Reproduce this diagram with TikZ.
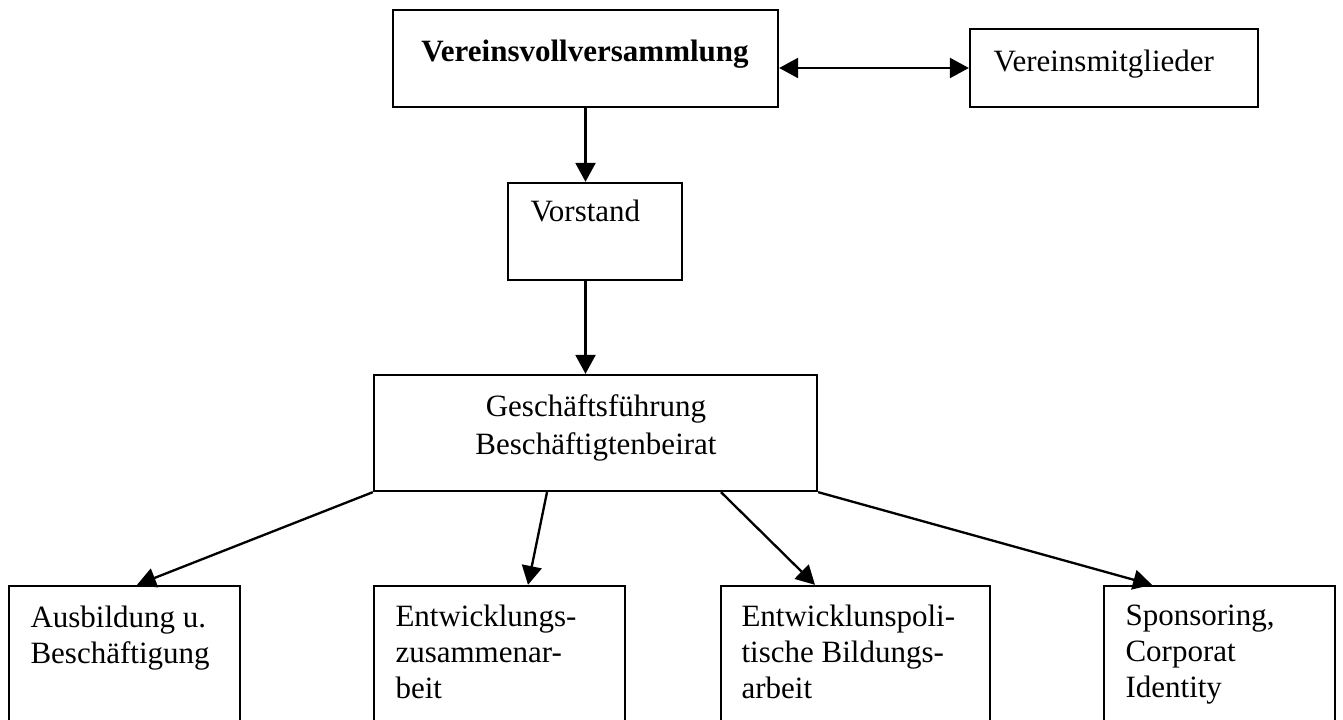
\documentclass[tikz,border=0pt]{standalone}
\usepackage{fontspec}
\setmainfont{Liberation Serif}
\usetikzlibrary{arrows.meta,calc}
\newcommand{\pxl}{0.387pt}
\begin{document}
\begin{tikzpicture}[x=0.387pt,y=-0.387pt,>={Triangle[length=7.3pt,width=7.7pt]},
	box/.style={draw,line width=0.9pt,inner sep=0pt},
	txt/.style={inner sep=0pt,font=\fontsize{12}{14.1}\selectfont,align=left},
	pfeil/.style={line width=0.9pt}]
	\useasboundingbox (0,0) rectangle (1343,720);
	\clip (0,0) rectangle (1343,720);
	%boxes
	\node[box,minimum width=385*\pxl,minimum height=97*\pxl] (vvv) at (585.5,58.5) {};
	\node[box,minimum width=288*\pxl,minimum height=78*\pxl] (mit) at (1114,68) {};
	\node[box,minimum width=174*\pxl,minimum height=97*\pxl] (vor) at (595,231.5) {};
	\node[box,minimum width=443*\pxl,minimum height=116*\pxl] (gf) at (595.5,433) {};
	\node[box,minimum width=231*\pxl,minimum height=174*\pxl] (aus) at (124.5,673) {};
	\node[box,minimum width=251*\pxl,minimum height=174*\pxl] (ez) at (499.5,673) {};
	\node[box,minimum width=269*\pxl,minimum height=174*\pxl] (ebp) at (855.5,673) {};
	\node[box,minimum width=231*\pxl,minimum height=174*\pxl] (spo) at (1219.5,673) {};
	%texts
	\node[txt,anchor=base] (vvv-t) at (585,62) {\bfseries Vereinsvollversammlung};
	\node[txt,anchor=base west] (mit-t) at (993,72) {Vereinsmitglieder};
	\node[txt,anchor=base west] (vor-t) at (530,222) {Vorstand};
	\node[txt,anchor=north,align=center] (gf-t) at (596,394) {Geschäftsführung\\[0.6pt]Beschäftigtenbeirat};
	\node[txt,anchor=north west] (aus-t) at (30,605) {Ausbildung u.\\Beschäftigung};
	\node[txt,anchor=north west] (ez-t) at (395,604) {Entwicklungs-\\zusammenar-\\beit};
	\node[txt,anchor=north west] (ebp-t) at (741,604) {Entwicklunspoli-\\tische Bildungs-\\arbeit};
	\node[txt,anchor=north west] (spo-t) at (1125,604) {Sponsoring,\\Corporat\\Identity};
	%arrows
	\draw[pfeil,<->] (vvv.east |- mit.west) -- (mit.west);
	\draw[pfeil,->] (vvv.south) -- (vvv.south |- vor.north);
	\draw[pfeil,->] (vor.south -| vvv.south) -- (gf.north -| vvv.south);
	\draw[pfeil,->] (gf.south west) -- ($(aus.north)+(12.5,0)$);
	\draw[pfeil,->] ($(gf.south)+(-48.5,0)$) -- ($(ez.north)+(28.5,0)$);
	\draw[pfeil,->] ($(gf.south)+(125.5,0)$) -- ($(ebp.north)+(-40.5,0)$);
	\draw[pfeil,->] (gf.south east) -- ($(spo.north)+(-67.5,0)$);
\end{tikzpicture}
\end{document}
